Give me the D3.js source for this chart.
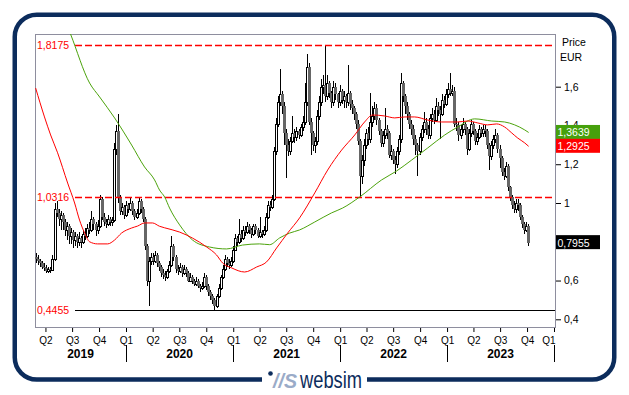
<!DOCTYPE html>
<html>
<head>
<meta charset="utf-8">
<title>Price EUR</title>
<script src="https://cdn.jsdelivr.net/npm/d3@7"></script>
<style>
body{ margin:0; background:#fff; }
svg text{ font-family:"Liberation Sans", Arial, sans-serif; }
</style>
</head>
<body>
<script>
// weekly candles, first week starts 2019-02-25, open = previous close
var firstWeek = new Date(2019, 1, 25);
var firstOpen = 0.72;

var closes = [
0.71,0.70,0.69,0.67,0.665,0.65,0.66,0.655,0.71,0.97,
0.95,0.92,0.94,0.90,0.86,0.88,0.83,0.85,0.81,0.83,
0.80,0.82,0.80,0.84,0.83,0.87,0.86,0.92,0.89,0.86,
0.88,1.02,0.93,0.90,0.89,0.92,0.90,0.91,1.28,1.37,
1.03,0.96,0.98,0.94,0.99,0.97,1.00,0.96,0.93,0.95,
1.01,0.97,0.92,0.78,0.60,0.70,0.72,0.70,0.73,0.69,
0.67,0.64,0.63,0.62,0.65,0.68,0.78,0.72,0.66,0.65,
0.67,0.64,0.66,0.64,0.60,0.62,0.60,0.58,0.60,0.57,
0.56,0.57,0.62,0.57,0.54,0.52,0.50,0.47,0.52,0.56,
0.62,0.66,0.71,0.69,0.68,0.70,0.76,0.82,0.80,0.84,
0.82,0.86,0.85,0.88,0.86,0.84,0.88,0.86,0.83,0.85,
0.84,0.86,0.93,0.99,0.98,1.02,1.27,1.41,1.52,1.56,
1.50,1.36,1.30,1.27,1.32,1.36,1.34,1.37,1.35,1.39,
1.42,1.52,1.70,1.42,1.36,1.30,1.32,1.45,1.52,1.60,
1.61,1.55,1.62,1.57,1.52,1.60,1.56,1.52,1.58,1.53,
1.55,1.52,1.57,1.51,1.49,1.46,1.41,1.32,1.14,1.22,
1.30,1.36,1.33,1.42,1.45,1.49,1.43,1.37,1.31,1.35,
1.38,1.36,1.25,1.27,1.22,1.20,1.27,1.33,1.62,1.55,
1.50,1.46,1.41,1.38,1.33,1.30,1.27,1.34,1.38,1.42,
1.38,1.35,1.44,1.46,1.43,1.50,1.48,1.46,1.53,1.51,
1.56,1.59,1.57,1.58,1.41,1.40,1.35,1.38,1.41,1.38,
1.28,1.36,1.41,1.37,1.32,1.34,1.38,1.36,1.38,1.37,
1.30,1.24,1.30,1.33,1.35,1.28,1.23,1.16,1.14,1.19,
1.08,1.03,0.99,0.97,1.00,0.99,0.93,0.89,0.86,0.88,
0.7955
];

var highs = [
0.74,0.73,0.71,0.70,0.69,0.68,0.67,0.67,0.73,1.00,
1.01,0.97,0.96,0.95,0.92,0.90,0.89,0.87,0.86,0.85,
0.84,0.85,0.83,0.86,0.87,0.89,0.90,0.96,0.93,0.90,
0.91,1.04,1.03,0.95,0.92,0.94,0.93,0.93,1.31,1.40,
1.46,1.04,1.00,0.99,1.01,1.00,1.03,1.01,0.97,0.97,
1.03,1.02,0.98,0.93,0.79,0.72,0.74,0.74,0.75,0.74,
0.70,0.68,0.66,0.65,0.66,0.70,0.83,0.79,0.73,0.68,
0.69,0.68,0.68,0.67,0.65,0.64,0.63,0.61,0.62,0.61,
0.58,0.59,0.64,0.63,0.58,0.55,0.53,0.51,0.53,0.58,
0.63,0.68,0.73,0.72,0.71,0.72,0.78,0.84,0.83,0.92,
0.86,0.88,0.88,0.90,0.89,0.87,0.89,0.89,0.87,0.93,
0.86,0.88,0.95,1.01,1.01,1.04,1.29,1.44,1.55,1.69,
1.58,1.52,1.38,1.33,1.34,1.45,1.38,1.39,1.38,1.41,
1.45,1.62,1.77,1.72,1.44,1.37,1.34,1.48,1.55,1.64,
1.66,1.8175,1.66,1.63,1.58,1.63,1.62,1.57,1.61,1.59,
1.58,1.56,1.71,1.58,1.53,1.50,1.47,1.43,1.33,1.25,
1.33,1.38,1.39,1.57,1.50,1.52,1.51,1.44,1.38,1.37,
1.49,1.40,1.37,1.30,1.28,1.24,1.29,1.35,1.67,1.63,
1.56,1.52,1.47,1.43,1.40,1.35,1.31,1.36,1.40,1.47,
1.44,1.40,1.46,1.49,1.48,1.54,1.52,1.50,1.56,1.55,
1.59,1.62,1.67,1.61,1.60,1.44,1.42,1.40,1.44,1.42,
1.39,1.38,1.43,1.42,1.38,1.36,1.40,1.39,1.40,1.40,
1.38,1.31,1.32,1.35,1.38,1.36,1.30,1.24,1.18,1.21,
1.20,1.09,1.04,1.01,1.02,1.02,1.00,0.94,0.90,0.90,
0.89
];

var lows = [
0.69,0.68,0.67,0.66,0.65,0.64,0.64,0.64,0.65,0.70,
0.93,0.88,0.86,0.86,0.83,0.81,0.79,0.79,0.77,0.78,
0.77,0.78,0.77,0.79,0.81,0.82,0.84,0.85,0.86,0.83,
0.84,0.87,0.91,0.88,0.87,0.88,0.88,0.88,0.90,1.25,
1.00,0.94,0.94,0.92,0.93,0.95,0.96,0.94,0.91,0.92,
0.94,0.95,0.90,0.76,0.57,0.47,0.68,0.68,0.69,0.67,
0.65,0.62,0.61,0.60,0.61,0.64,0.67,0.70,0.64,0.63,
0.64,0.62,0.63,0.62,0.59,0.59,0.58,0.57,0.57,0.56,
0.54,0.55,0.56,0.55,0.52,0.50,0.48,0.4455,0.46,0.51,
0.55,0.61,0.65,0.67,0.66,0.67,0.69,0.75,0.78,0.79,
0.80,0.81,0.83,0.84,0.84,0.82,0.83,0.84,0.82,0.82,
0.82,0.83,0.85,0.92,0.96,0.97,1.01,1.25,1.39,1.50,
1.46,1.30,1.13,1.24,1.25,1.31,1.31,1.32,1.33,1.34,
1.37,1.40,1.50,1.40,1.25,1.27,1.26,1.30,1.43,1.50,
1.56,1.52,1.53,1.54,1.49,1.50,1.53,1.49,1.50,1.51,
1.49,1.49,1.50,1.48,1.46,1.43,1.38,1.30,1.0316,1.10,
1.19,1.28,1.30,1.31,1.39,1.43,1.40,1.35,1.29,1.29,
1.33,1.33,1.23,1.22,1.20,1.15,1.18,1.25,1.31,1.52,
1.46,1.43,1.38,1.35,1.30,1.25,1.14,1.25,1.32,1.36,
1.35,1.33,1.33,1.42,1.41,1.42,1.45,1.33,1.45,1.49,
1.50,1.54,1.55,1.55,1.39,1.37,1.32,1.33,1.36,1.35,
1.25,1.27,1.34,1.35,1.30,1.30,1.33,1.34,1.34,1.34,
1.28,1.17,1.22,1.28,1.31,1.26,1.18,1.14,1.12,1.13,
1.06,1.01,0.97,0.95,0.95,0.96,0.91,0.87,0.84,0.85,
0.78
];

// moving averages: [week index, value]
var redAvg = [
[-0.2,1.593],[4.1,1.444],[7.1,1.351],[10.5,1.259],[15.4,1.103],[18.8,1.00],
[21.2,0.912],[23.7,0.845],[26.1,0.80],[30,0.789],[34.9,0.789],[38.3,0.809],
[41.7,0.845],[46.6,0.871],[49.5,0.881],[52.9,0.897],[56.8,0.897],[60.2,0.880],
[62.7,0.872],[70,0.850],[76.3,0.819],[83.2,0.773],[88,0.732],[91,0.690],
[95.4,0.665],[101.7,0.644],[107.6,0.670],[112.4,0.696],[117.3,0.768],[122.7,0.845],
[128.5,0.923],[135.9,1.052],[142.2,1.170],[149,1.273],[155.4,1.351],[160.2,1.418],
[164.1,1.454],[170,1.449],[174.9,1.439],[179.8,1.444],[184.6,1.444],[191,1.428],
[197.8,1.418],[205.6,1.418],[210.5,1.423],[215.4,1.413],[220.2,1.403],[224.6,1.408],
[228.5,1.392],[232,1.361],[234.9,1.335],[238.3,1.31],[240.2,1.2925]
];
var greenAvg = [
[12.4,1.99],[16.8,1.872],[26.1,1.619],[31,1.547],[38.3,1.439],[46.6,1.299],
[52.9,1.186],[57.8,1.119],[60.2,1.067],[62.7,1.031],[65.1,0.974],[70,0.887],
[76.3,0.809],[84.6,0.773],[92.9,0.763],[100.7,0.783],[109,0.789],[113.9,0.785],
[118.8,0.820],[123.7,0.845],[128.5,0.861],[135.9,0.902],[144.1,0.949],[149.5,0.974],
[157.8,1.031],[168.5,1.119],[175.8,1.165],[183.2,1.222],[191,1.284],[199.3,1.351],
[205.6,1.392],[213.9,1.434],[222.2,1.423],[228.5,1.418],[233.4,1.403],[238.3,1.377],
[240.2,1.3639]
];

var highLevel = 1.8175;
var midLevel = 1.0316;
var lowLevel = 0.4455;
var greenLast = 1.3639;
var redLast = 1.2925;
var priceLast = 0.7955;

var priceTicks = [0.4, 0.6, 0.8, 1, 1.2, 1.4, 1.6];
var hiddenTicks = [0.8]; // covered by the last price tag
var quarterLabels = ["Q2","Q3","Q4","Q1","Q2","Q3","Q4","Q1","Q2","Q3","Q4",
                     "Q1","Q2","Q3","Q4","Q1","Q2","Q3","Q4","Q1"];
var years = ["2019","2020","2021","2022","2023"];

var width = 629, height = 395;
var plot = {left: 35, right: 555, top: 34, bottom: 327};
var navy = "#0c2c5c";

var euro = d3.formatLocale({decimal: ",", thousands: ".", grouping: [3], currency: ["", " €"]});
var tickFmt = euro.format(".1~f");
var tagFmt = euro.format(".4f");

var svg = d3.select("body").append("svg")
    .attr("width", width)
    .attr("height", height);

var x = d3.scaleTime()
    .domain([new Date(2020, 0, 1), new Date(2024, 0, 1)])
    .range([126, 554]);
var y = d3.scaleLinear()
    .domain([0.4, 1.6])
    .range([319.3, 86.7]);

function weekDate(i){
	return new Date(firstWeek.getTime() + (i * 7 + 3) * 864e5);
}

svg.append("clipPath").attr("id", "plotclip")
	.append("rect")
	.attr("x", plot.left).attr("y", plot.top)
	.attr("width", plot.right - plot.left).attr("height", plot.bottom - plot.top);

// outer frame
svg.append("rect")
	.attr("x", 14.75).attr("y", 14.75)
	.attr("width", 599.5).attr("height", 364.75)
	.attr("rx", 22).attr("ry", 22)
	.attr("fill", "none")
	.attr("stroke", navy)
	.attr("stroke-width", 4.5);

// plot border
svg.append("rect")
	.attr("x", plot.left + 0.5).attr("y", plot.top + 0.5)
	.attr("width", plot.right - plot.left).attr("height", plot.bottom - plot.top)
	.attr("fill", "#fff")
	.attr("stroke", "#8e8e9e");

// candles
var candles = closes.map(function(c, i){
	return {
		date: weekDate(i),
		open: i == 0 ? firstOpen : closes[i - 1],
		close: c,
		high: highs[i],
		low: lows[i]
	};
});

var candleG = svg.append("g").attr("clip-path", "url(#plotclip)");
var cg = candleG.selectAll("g").data(candles).enter().append("g");

cg.append("line")
	.attr("x1", function(d){ return Math.round(x(d.date)) + 0.5; })
	.attr("x2", function(d){ return Math.round(x(d.date)) + 0.5; })
	.attr("y1", function(d){ return Math.round(y(d.high)); })
	.attr("y2", function(d){ return Math.round(y(d.low)); })
	.attr("stroke", "#000");

cg.append("rect")
	.attr("x", function(d){
		var c = Math.round(x(d.date));
		return d.close >= d.open ? c - 0.5 : c - 1;
	})
	.attr("y", function(d){
		var top = Math.round(y(Math.max(d.open, d.close)));
		return d.close >= d.open ? top + 0.5 : top;
	})
	.attr("width", function(d){ return d.close >= d.open ? 2 : 3; })
	.attr("height", function(d){
		var h = Math.round(y(Math.min(d.open, d.close))) - Math.round(y(Math.max(d.open, d.close)));
		return Math.max(h, 1);
	})
	.attr("fill", function(d){ return d.close >= d.open ? "#fff" : "#666"; })
	.attr("stroke", function(d){ return d.close >= d.open ? "#000" : "none"; });

// level lines: dashes drawn as small filled rects in red
var levelG = svg.append("g");
[highLevel, midLevel].forEach(function(v){
	var dashStarts = d3.range(75, plot.right, 10);
	levelG.selectAll(null).data(dashStarts).enter().append("rect")
		.attr("x", function(d){ return d; })
		.attr("y", Math.round(y(v)) - 0.25)
		.attr("width", function(d){ return Math.min(7, plot.right - d); })
		.attr("height", 1.5)
		.attr("fill", "#ff0000");
});
levelG.append("line")
	.attr("x1", 75).attr("x2", plot.right)
	.attr("y1", Math.round(y(lowLevel)) + 0.5).attr("y2", Math.round(y(lowLevel)) + 0.5)
	.style("stroke", "#000");
levelG.selectAll("text").data([highLevel, midLevel, lowLevel]).enter().append("text")
	.attr("x", 37)
	.attr("y", function(d){ return y(d) + 4; })
	.attr("font-size", "10.5px")
	.attr("fill", "#f00")
	.text(function(d){ return tagFmt(d); });

// moving averages
var avgLine = d3.line()
	.x(function(d){ return x(weekDate(d[0])); })
	.y(function(d){ return y(d[1]); })
	.curve(d3.curveMonotoneX);

var avgG = svg.append("g").attr("clip-path", "url(#plotclip)");
avgG.append("path").datum(greenAvg)
	.attr("d", avgLine)
	.attr("fill", "none")
	.attr("stroke", "#4ca30c")
	.attr("stroke-width", 1);
avgG.append("path").datum(redAvg)
	.attr("d", avgLine)
	.attr("fill", "none")
	.attr("stroke", "#ff0000")
	.attr("stroke-width", 1);

// right price axis
var yAxis = svg.append("g")
	.attr("transform", "translate(" + (plot.right + 1) + ",0)")
	.call(d3.axisRight(y).tickValues(priceTicks).tickSize(5).tickPadding(3)
		.tickFormat(function(d){ return hiddenTicks.indexOf(d) >= 0 ? "" : tickFmt(d); }));
yAxis.select(".domain").remove();
yAxis.attr("font-size", "10.5px");
yAxis.selectAll("text").attr("fill", "#000");

svg.append("text").attr("x", 562).attr("y", 46).attr("font-size", "10.5px").text("Price");
svg.append("text").attr("x", 560).attr("y", 60.5).attr("font-size", "10.5px").text("EUR");

// value tags
function tag(v, color){
	svg.append("rect")
		.attr("x", 556).attr("y", y(v) - 7.5)
		.attr("width", 44).attr("height", 14)
		.attr("fill", color);
	svg.append("text")
		.attr("x", 557.5).attr("y", y(v) + 4)
		.attr("font-size", "10.5px")
		.attr("fill", "#fff")
		.text(tagFmt(v));
}
tag(greenLast, "#46a00c");
tag(redLast, "#ff0000");
tag(priceLast, "#000");

// time axis: quarters
var quarterDates = d3.timeMonth.every(3).range(new Date(2019, 3, 1), new Date(2024, 0, 2));
var xAxis = svg.append("g")
	.attr("transform", "translate(0," + (plot.bottom + 1) + ")")
	.call(d3.axisBottom(x).tickValues(quarterDates).tickSize(4).tickPadding(5)
		.tickFormat(function(d, i){ return quarterLabels[i]; }));
xAxis.select(".domain").remove();
xAxis.attr("font-size", "10px");
xAxis.selectAll("text").attr("fill", "#000");
xAxis.selectAll(".tick:last-of-type text").attr("text-anchor", "end").attr("x", 1);

// years
var yearStarts = years.map(function(yr){ return new Date(+yr, 0, 1); });
var sepDates = yearStarts.slice(1).concat([new Date(2024, 0, 1)]);
svg.selectAll("line.yearsep").data(sepDates).enter().append("line")
	.attr("class", "yearsep")
	.attr("x1", function(d){ return Math.round(x(d)) + 0.5; })
	.attr("x2", function(d){ return Math.round(x(d)) + 0.5; })
	.attr("y1", 345).attr("y2", 362)
	.attr("stroke", "#000");
svg.selectAll("text.year").data(years).enter().append("text")
	.attr("class", "year")
	.attr("x", function(d, i){
		var a = Math.max(plot.left, x(yearStarts[i]));
		var b = Math.min(plot.right, x(new Date(+d + 1, 0, 1)));
		return (a + b) / 2;
	})
	.attr("y", 358)
	.attr("text-anchor", "middle")
	.attr("font-size", "12px")
	.attr("font-weight", "bold")
	.text(function(d){ return d; });

// logo on the bottom edge
var logo = svg.append("g");
logo.append("rect")
	.attr("x", 262).attr("y", 372)
	.attr("width", 105).attr("height", 14)
	.attr("fill", "#fff");
logo.append("circle")
	.attr("cx", 270.5).attr("cy", 373.5).attr("r", 2.3)
	.attr("fill", navy);
logo.append("text")
	.attr("x", 273).attr("y", 387.5)
	.attr("font-size", "20px")
	.attr("font-weight", "bold")
	.attr("font-style", "italic")
	.attr("fill", "#9aabc8")
	.attr("textLength", 24)
	.attr("lengthAdjust", "spacingAndGlyphs")
	.text("//S");
logo.append("text")
	.attr("x", 300).attr("y", 388)
	.attr("font-size", "24px")
	.attr("fill", navy)
	.attr("textLength", 62)
	.attr("lengthAdjust", "spacingAndGlyphs")
	.text("websim");
</script>
</body>
</html>
